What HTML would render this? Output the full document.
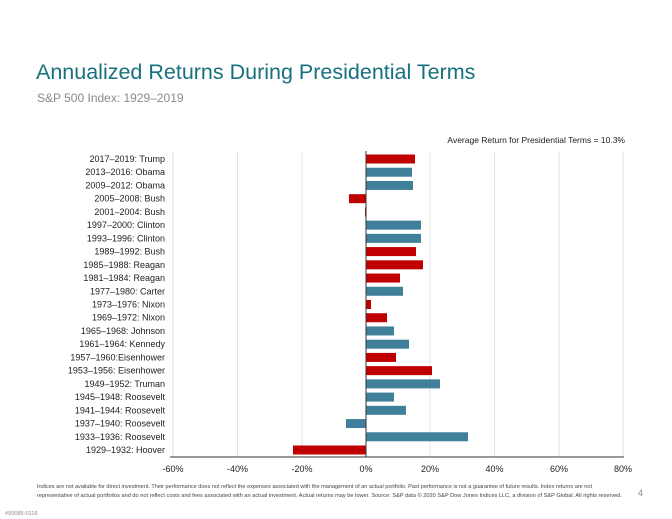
<!DOCTYPE html>
<html><head><style>
body{margin:0;background:#fff;}
svg{display:block;font-family:"Liberation Sans",Arial,sans-serif;}
</style></head><body>
<svg width="672" height="519" viewBox="0 0 672 519">
<text x="36" y="79" font-size="21.5" fill="#17707e">Annualized Returns During Presidential Terms</text>
<text x="37" y="102" font-size="12" fill="#8a8a8a">S&amp;P 500 Index: 1929–2019</text>
<text x="625" y="143" font-size="8.5" fill="#222" text-anchor="end">Average  Return for Presidential Terms = 10.3%</text>
<g stroke="#e2e2e2" stroke-width="1">
<line x1="173" y1="151" x2="173" y2="457"/><line x1="237.5" y1="151" x2="237.5" y2="457"/>
<line x1="302" y1="151" x2="302" y2="457"/><line x1="430" y1="151" x2="430" y2="457"/>
<line x1="494.5" y1="151" x2="494.5" y2="457"/><line x1="559" y1="151" x2="559" y2="457"/>
<line x1="623" y1="151" x2="623" y2="457"/>
</g>
<g id="bars"></g>
<line x1="366" y1="151" x2="366" y2="457" stroke="#333" stroke-width="1"/>
<line x1="170" y1="457" x2="624" y2="457" stroke="#333" stroke-width="1"/>
<g font-size="9" fill="#222" text-anchor="middle">
<text x="173" y="472">-60%</text><text x="237.5" y="472">-40%</text><text x="302" y="472">-20%</text>
<text x="366" y="472">0%</text><text x="430" y="472">20%</text><text x="494.5" y="472">40%</text>
<text x="559" y="472">60%</text><text x="623" y="472">80%</text>
</g>
<g font-size="5.6" fill="#444">
<text x="37" y="488" textLength="555" lengthAdjust="spacingAndGlyphs">Indices are not available for direct investment. Their performance does not reflect the expenses associated with the management of an actual portfolio. Past performance is not a guarantee of future results. Index returns are not</text>
<text x="37" y="497" textLength="585" lengthAdjust="spacingAndGlyphs">representative of actual portfolios and do not reflect costs and fees associated with an actual investment. Actual returns may be lower. Source: S&amp;P data © 2020 S&amp;P Dow Jones Indices LLC, a division of S&amp;P Global. All rights reserved.</text>
<text x="5" y="515" fill="#888">#50085-0116</text>
</g>
<text x="638" y="496" font-size="9" fill="#888">4</text>
<g id="labels" font-size="9" fill="#222" text-anchor="end"></g>
<g>
<script>
var d=[["2017–2019: Trump",49,1],["2013–2016: Obama",46,0],["2009–2012: Obama",47,0],["2005–2008: Bush",-17,1],["2001–2004: Bush",-1,1],["1997–2000: Clinton",55,0],["1993–1996: Clinton",55,0],["1989–1992: Bush",50,1],["1985–1988: Reagan",57,1],["1981–1984: Reagan",34,1],["1977–1980: Carter",37,0],["1973–1976: Nixon",5,1],["1969–1972: Nixon",21,1],["1965–1968: Johnson",28,0],["1961–1964: Kennedy",43,0],["1957–1960:Eisenhower",30,1],["1953–1956: Eisenhower",66,1],["1949–1952: Truman",74,0],["1945–1948: Roosevelt",28,0],["1941–1944: Roosevelt",40,0],["1937–1940: Roosevelt",-20,0],["1933–1936: Roosevelt",102,0],["1929–1932: Hoover",-73,1]];
var ns="http://www.w3.org/2000/svg",b=document.getElementById("bars"),l=document.getElementById("labels");
var step=(450-159)/22;
d.forEach(function(r,i){var cy=159+i*step;
var t=document.createElementNS(ns,"text");t.setAttribute("x",165);t.setAttribute("y",cy+3);t.textContent=r[0];l.appendChild(t);
var e=document.createElementNS(ns,"rect");var w=r[1];e.setAttribute("x",w<0?366+w:366);e.setAttribute("width",Math.abs(w));e.setAttribute("y",cy-4.5);e.setAttribute("height",9);e.setAttribute("fill",r[2]?"#c00000":"#41809b");b.appendChild(e);});
</script>
</g>
</svg>
</body></html>
